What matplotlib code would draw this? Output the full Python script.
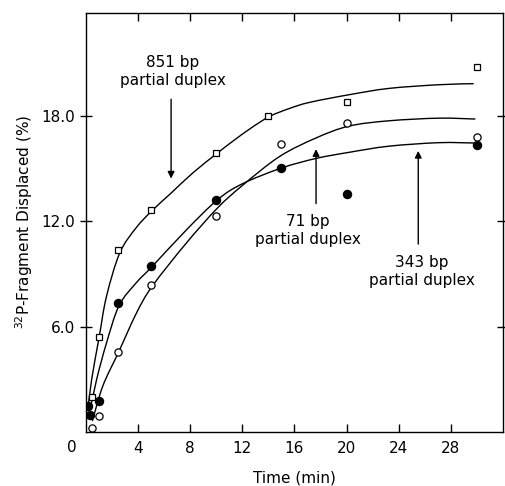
import matplotlib
matplotlib.use("Agg")
import matplotlib.pyplot as plt
from matplotlib.path import Path
from matplotlib.patches import PathPatch

# measured points
t_851 = [0.5, 1.0, 2.5, 5, 10, 14, 20, 30]
y_851 = [2.0, 5.4, 10.35, 12.65, 15.9, 18.0, 18.8, 20.8]

t_343 = [0.2, 0.3, 1.0, 2.5, 5, 10, 15, 20, 30]
y_343 = [1.45, 0.95, 1.75, 7.35, 9.45, 13.25, 15.05, 13.55, 16.35]

t_71 = [0.45, 1.0, 2.5, 5, 10, 15, 20, 30]
y_71 = [0.2, 0.9, 4.55, 8.35, 12.3, 16.4, 17.6, 16.8]

# hand-drawn fit curves
fit_851_t = [0.15, 0.44, 1.02, 1.58, 2.6, 3.87, 5.15, 6.54, 8.2, 10.03, 11.25,
             12.7, 14.1, 15.6, 17.15, 20.2, 23.25, 27.07, 29.75]
fit_851_y = [1.2, 2.95, 5.39, 7.71, 10.2, 11.65, 12.67, 13.62, 14.77, 15.87, 16.57,
             17.35, 18.0, 18.45, 18.8, 19.24, 19.6, 19.81, 19.87]

fit_343_t = [0.2, 0.82, 1.58, 2.55, 3.87, 5.09, 7.69, 10.1, 12.0, 15.0, 17.66,
             20.2, 23.25, 27.07, 29.88]
fit_343_y = [0.8, 2.95, 5.05, 7.2, 8.5, 9.43, 11.5, 13.24, 14.15, 15.05, 15.6,
             15.95, 16.3, 16.5, 16.48]

fit_71_t = [0.5, 1.3, 2.55, 3.87, 5.09, 7.69, 10.1, 12.0, 14.86, 17.66, 20.2,
            23.25, 27.07, 29.88]
fit_71_y = [0.6, 2.6, 4.6, 6.75, 8.3, 10.75, 12.77, 14.05, 15.71, 16.77, 17.45,
            17.75, 17.9, 17.85]

x_ticks = [4, 8, 12, 16, 20, 24, 28]
y_ticks = [6, 12, 18]
y_tick_labels = ["6.0", "12.0", "18.0"]


def smooth_curve(ax, xs, ys):
    # cubic bezier pieces through the read points (Catmull-Rom tangents)
    verts = [(xs[0], ys[0])]
    codes = [Path.MOVETO]
    n = len(xs)
    for i in range(n - 1):
        x0, y0 = xs[max(i - 1, 0)], ys[max(i - 1, 0)]
        x1, y1 = xs[i], ys[i]
        x2, y2 = xs[i + 1], ys[i + 1]
        x3, y3 = xs[min(i + 2, n - 1)], ys[min(i + 2, n - 1)]
        c1 = (x1 + (x2 - x0) / 6.0, y1 + (y2 - y0) / 6.0)
        c2 = (x2 - (x3 - x1) / 6.0, y2 - (y3 - y1) / 6.0)
        verts += [c1, c2, (x2, y2)]
        codes += [Path.CURVE4] * 3
    ax.add_patch(PathPatch(Path(verts, codes), facecolor='none',
                           edgecolor='black', lw=1.0))


plt.rcParams['font.family'] = ['DejaVu Sans']

fig = plt.figure(figsize=(5.05, 4.86), dpi=100)
ax = fig.add_axes([0.170, 0.112, 0.826, 0.861])

smooth_curve(ax, fit_851_t, fit_851_y)
smooth_curve(ax, fit_343_t, fit_343_y)
smooth_curve(ax, fit_71_t, fit_71_y)

ax.plot(t_851, y_851, linestyle='none', marker='s', markersize=5,
        markerfacecolor='white', markeredgecolor='black', markeredgewidth=0.9)
ax.plot(t_71, y_71, linestyle='none', marker='o', markersize=5.2,
        markerfacecolor='white', markeredgecolor='black', markeredgewidth=0.9)
ax.plot(t_343, y_343, linestyle='none', marker='o', markersize=5.8,
        markerfacecolor='black', markeredgecolor='black')

ax.set_xlim(0, 32)
ax.set_ylim(0, 23.9)

ax.set_xticks(x_ticks)
ax.set_yticks(y_ticks)
ax.set_yticklabels(y_tick_labels)
ax.tick_params(axis='x', direction='in', length=6, width=1, top=True,
               labelsize=11, pad=7)
ax.tick_params(axis='y', direction='inout', length=8, width=1, right=True,
               labelsize=11, pad=4)
for s in ax.spines.values():
    s.set_linewidth(1.0)

ax.text(-0.022, -0.02, "0", transform=ax.transAxes, ha='right', va='top', fontsize=11)

ax.set_xlabel("Time (min)", fontsize=11, labelpad=10)
ax.set_ylabel("$^{32}$P-Fragment Displaced (%)", fontsize=11, labelpad=4.5)

arrow = dict(arrowstyle='-|>', color='black', lw=1.0, mutation_scale=10)
ax.text(6.66, 20.54, "851 bp\npartial duplex", ha='center', va='center',
        fontsize=11, linespacing=1.25)
ax.annotate("", xy=(6.54, 14.29), xytext=(6.54, 19.14), arrowprops=arrow)

ax.text(17.0, 11.46, "71 bp\npartial duplex", ha='center', va='center',
        fontsize=11, linespacing=1.25)
ax.annotate("", xy=(17.66, 16.29), xytext=(17.66, 12.86), arrowprops=arrow)

ax.text(25.75, 9.14, "343 bp\npartial duplex", ha='center', va='center',
        fontsize=11, linespacing=1.25)
ax.annotate("", xy=(25.5, 16.19), xytext=(25.5, 10.55), arrowprops=arrow)

fig.savefig("out.png", dpi=100)
